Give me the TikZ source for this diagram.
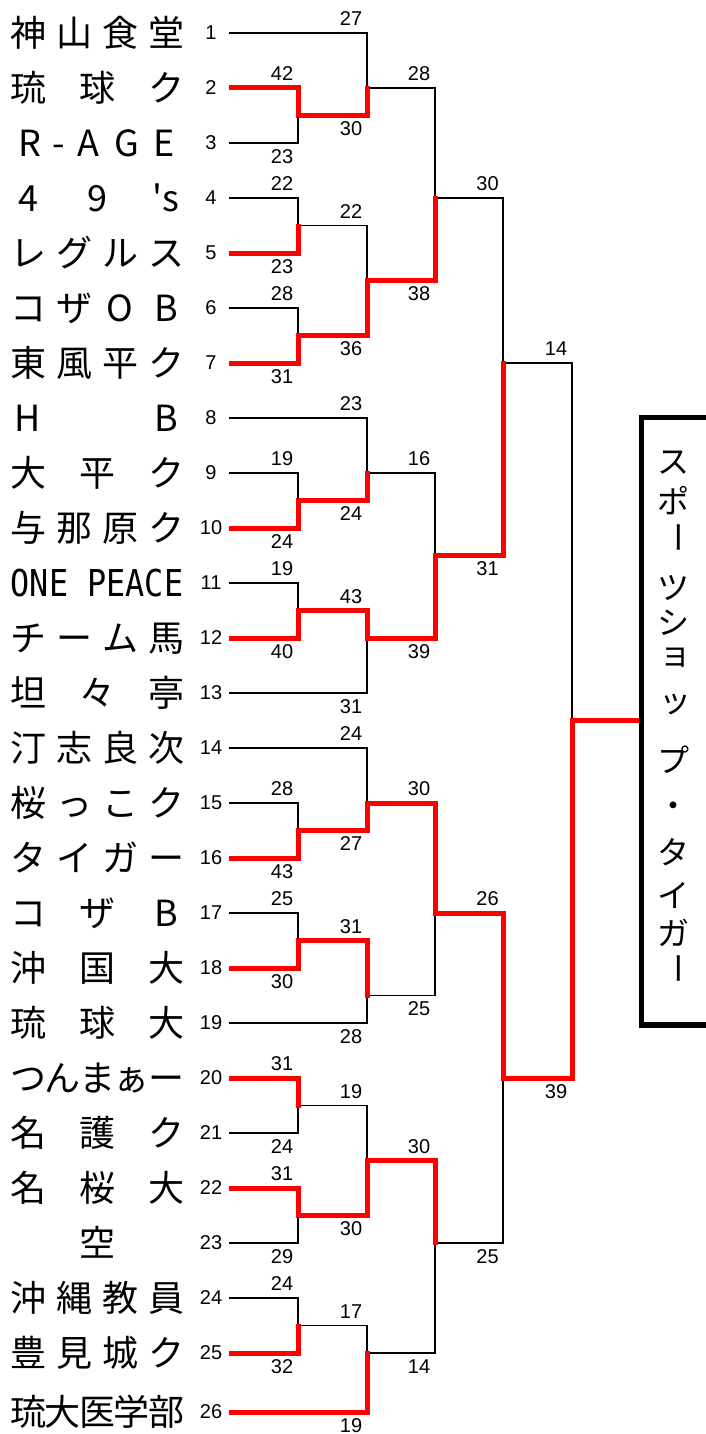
\documentclass[tikz,border=0pt]{standalone}
\usepackage{fontspec}
\usepackage{graphicx}
\setmainfont{Liberation Sans}
\newfontfamily\jp{Noto Sans CJK JP}
\newfontfamily\mono{DejaVu Sans Mono}
\newcommand\teamrow[4]{%
  \foreach \c [count=\k] in {#4}{%
    \pgfmathsetmacro\xx{28+(\k-1)*138/(#3-1)}%
    \node[nm] (n#1-\k) at (\xx,#2+13.7) {\c};
  }%
}
\begin{document}
\begin{tikzpicture}[x=1pt,y=-1pt,
  bl/.style={line width=1.8pt,black},
  rd/.style={line width=5pt,red,line join=miter,shorten >=-2pt},
  nm/.style={font=\jp\fontsize{36}{36}\selectfont,anchor=base,inner sep=0pt},
  sd/.style={font=\fontsize{20}{20}\selectfont,anchor=center,inner sep=0pt},
  sc/.style={font=\fontsize{20}{20}\selectfont,anchor=center,inner sep=0pt},
  ttl/.style={font=\jp\fontsize{32}{32}\selectfont,anchor=center,inner sep=0pt},
  boxline/.style={line width=5.5pt,black}]
\useasboundingbox (0,0) rectangle (705,1434);
\fill[white] (0,0) rectangle (705,1434);

% team line starts
\foreach \i in {1,...,25} \coordinate (t\i) at (229,{33+55*(\i-1)});
\coordinate (t26) at (229,1412);

% match junctions
\coordinate (a23) at (298,115.5);
\coordinate (a13) at (367,88);
\coordinate (a45) at (298,225.5);
\coordinate (a67) at (298,335.5);
\coordinate (a47) at (367,280.5);
\coordinate (a17) at (435,198);
\coordinate (a910) at (298,500.5);
\coordinate (a810) at (367,473);
\coordinate (a1112) at (298,610.5);
\coordinate (a1113) at (367,638);
\coordinate (a813) at (435,555.5);
\coordinate (aA) at (503,363);
\coordinate (a1516) at (298,830.5);
\coordinate (a1416) at (367,803);
\coordinate (a1718) at (298,940.5);
\coordinate (a1719) at (367,995.5);
\coordinate (a1419) at (435,913);
\coordinate (a2021) at (298,1105.5);
\coordinate (a2223) at (298,1215.5);
\coordinate (a2023) at (367,1160.5);
\coordinate (a2425) at (298,1325.5);
\coordinate (a2426) at (367,1353);
\coordinate (a2026) at (435,1243);
\coordinate (aB) at (503,1078);
\coordinate (F) at (572,720.5);
\coordinate (G) at (641.5,720.5);
\coordinate (bx1) at (712,417.5);
\coordinate (bx2) at (641.5,1025);
\coordinate (bx3) at (712,1025);

% black bracket
\foreach \a/\m in {t2/a23,t3/a23,t1/a13,a23/a13,t4/a45,t5/a45,t6/a67,t7/a67,
  a45/a47,a67/a47,a13/a17,a47/a17,t9/a910,t10/a910,t8/a810,a910/a810,
  t11/a1112,t12/a1112,a1112/a1113,t13/a1113,a810/a813,a1113/a813,
  a17/aA,a813/aA,t15/a1516,t16/a1516,t14/a1416,a1516/a1416,
  t17/a1718,t18/a1718,a1718/a1719,t19/a1719,a1416/a1419,a1719/a1419,
  t20/a2021,t21/a2021,t22/a2223,t23/a2223,a2021/a2023,a2223/a2023,
  t24/a2425,t25/a2425,a2425/a2426,t26/a2426,a2023/a2026,a2426/a2026,
  a1419/aB,a2026/aB,aA/F,aB/F}
  \draw[bl] (\a) -| (\m);

% winners in red
\draw[rd] (t2) -| (a23) -| (a13);
\draw[rd] (t5) -| (a45);
\draw[rd] (t7) -| (a67) -| (a47) -| (a17);
\draw[rd] (t10) -| (a910) -| (a810);
\draw[rd] (t12) -| (a1112) -| (a1113) -| (a813) -| (aA);
\draw[rd] (t16) -| (a1516) -| (a1416) -| (a1419) -| (aB) -| (F) -- (G);
\draw[rd] (t18) -| (a1718) -| (a1719);
\draw[rd] (t20) -| (a2021);
\draw[rd] (t22) -| (a2223) -| (a2023) -| (a2026);
\draw[rd] (t25) -| (a2425);
\draw[rd] (t26) -| (a2426);

% champion box
\draw[boxline] (bx1) -| (bx2) -- (bx3);

% seed numbers
\foreach \i in {1,...,25} \node[sd] (d\i) at (211,{33+55*(\i-1)}) {\i};
\node[sd] (d26) at (211,1412) {26};

% team names
\teamrow{1}{33}{4}{神,山,食,堂}
\teamrow{2}{88}{3}{琉,球,ク}
\foreach \c/\xx [count=\k] in {R/30,-/59,A/88,G/127,E/164}
  \node[nm] (n3-\k) at (\xx,143+13.7) {\c};
\teamrow{4}{198}{3}{4,9,{\XeTeXglyph\XeTeXcharglyph"27 s}}
\teamrow{5}{253}{4}{レ,グ,ル,ス}
\teamrow{6}{308}{4}{コ,ザ,O,B}
\teamrow{7}{363}{4}{東,風,平,ク}
\teamrow{8}{418}{2}{H,B}
\teamrow{9}{473}{3}{大,平,ク}
\teamrow{10}{528}{4}{与,那,原,ク}
\node[anchor=center,inner sep=0pt] (n11-1) at (97,583) {\mono\fontsize{37}{37}\selectfont\scalebox{0.86}[1]{ONE PEACE}};
\teamrow{12}{638}{4}{チ,ー,ム,馬}
\teamrow{13}{693}{3}{坦,々,亭}
\teamrow{14}{748}{4}{汀,志,良,次}
\teamrow{15}{803}{4}{桜,っ,こ,ク}
\teamrow{16}{858}{4}{タ,イ,ガ,ー}
\teamrow{17}{913}{3}{コ,ザ,B}
\teamrow{18}{968}{3}{沖,国,大}
\teamrow{19}{1023}{3}{琉,球,大}
\teamrow{20}{1078}{5}{つ,ん,ま,ぁ,ー}
\teamrow{21}{1133}{3}{名,護,ク}
\teamrow{22}{1188}{3}{名,桜,大}
\node[nm] (n23-1) at (97,1243+13.7) {空};
\teamrow{24}{1298}{4}{沖,縄,教,員}
\teamrow{25}{1353}{4}{豊,見,城,ク}
\teamrow{26}{1412}{5}{琉,大,医,学,部}

% scores
\foreach \x/\y/\t [count=\k] in {
  282/74/42, 282/156.5/23, 351/19/27, 351/129/30,
  282/184/22, 282/266.5/23, 282/294/28, 282/376.5/31,
  351/211.5/22, 351/349/36, 419/74/28, 419/294/38,
  282/459/19, 282/541.5/24, 351/404/23, 351/514/24,
  282/569/19, 282/651.5/40, 351/596.5/43, 351/706.5/31,
  419/459/16, 419/651.5/39, 487.5/184/30, 487.5/569/31,
  282/789/28, 282/871.5/43, 351/734/24, 351/844/27,
  282/899/25, 282/981.5/30, 351/926.5/31, 351/1036.5/28,
  419/789/30, 419/1009/25,
  282/1064/31, 282/1146.5/24, 282/1174/31, 282/1256.5/29,
  351/1091.5/19, 351/1229/30,
  282/1284/24, 282/1366.5/32, 351/1311.5/17, 351/1425.5/19,
  419/1146.5/30, 419/1366.5/14,
  487.5/899/26, 487.5/1256.5/25,
  556/349/14, 556/1091.5/39}
  \node[sc] (s\k) at (\x,\y) {\t};

% champion title (vertical)
\node[ttl] (c1) at (673,463) {ス};
\node[ttl] (c2) at (673,501) {ポ};
\node[ttl] (c3) at (673,537) {\rotatebox[origin=c]{-90}{ー}};
\node[ttl] (c4) at (673,588) {ツ};
\node[ttl] (c5) at (673,623) {シ};
\node[ttl] (c6) at (675,658) {ョ};
\node[ttl] (c7) at (675,704) {ッ};
\node[ttl] (c8) at (673,760) {プ};
\node[ttl] (c9) at (673,810) {・};
\node[ttl] (c10) at (673,852) {タ};
\node[ttl] (c11) at (673,895) {イ};
\node[ttl] (c12) at (673,933) {ガ};
\node[ttl] (c13) at (673,968) {\rotatebox[origin=c]{-90}{ー}};
\end{tikzpicture}
\end{document}
